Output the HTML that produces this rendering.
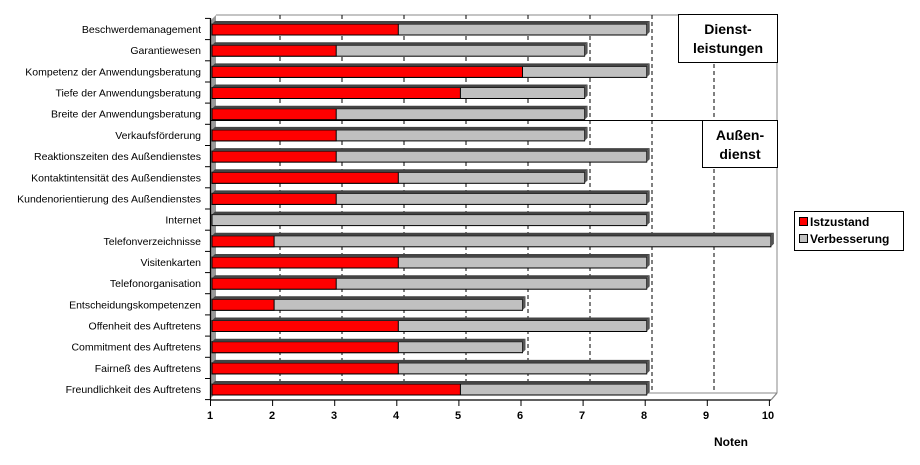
<!DOCTYPE html>
<html><head><meta charset="utf-8"><style>
body{margin:0;background:#fff;width:920px;height:465px;overflow:hidden}
svg{display:block;font-family:"Liberation Sans",Arial,sans-serif}
.l{font-size:10.5px;text-anchor:end}
.t{font-size:11px;font-weight:bold;text-anchor:middle}
</style></head><body>
<svg width="920" height="465" viewBox="0 0 920 465">
<!-- back wall -->
<polygon points="210,21 216,15 777,15 777,393 771,399 210,399" fill="#fff"/>
<line x1="216" y1="15" x2="777" y2="15" stroke="#888"/>
<line x1="777" y1="15" x2="777" y2="393" stroke="#888"/>
<line x1="216" y1="393" x2="777" y2="393" stroke="#888"/>
<!-- left wall -->
<polygon points="210,21 216,15 216,393 210,399" fill="#999"/>
<!-- gridlines -->
<g stroke="#000" stroke-dasharray="4,3" stroke-width="1">
<line x1="280" y1="15" x2="280" y2="393"/>
<line x1="342" y1="15" x2="342" y2="393"/>
<line x1="404" y1="15" x2="404" y2="393"/>
<line x1="466" y1="15" x2="466" y2="393"/>
<line x1="528" y1="15" x2="528" y2="393"/>
<line x1="590" y1="15" x2="590" y2="393"/>
<line x1="652" y1="15" x2="652" y2="393"/>
<line x1="714" y1="15" x2="714" y2="393"/>
</g>
<!-- separator -->
<line x1="210" y1="120.5" x2="777" y2="120.5" stroke="#000"/>
<!-- boxes -->
<rect x="678.5" y="14.5" width="99" height="48" fill="#fff" stroke="#000"/>
<text x="728" y="34" class="t" font-size="14" style="font-size:14px">Dienst-</text>
<text x="728" y="53" class="t" style="font-size:14px">leistungen</text>
<rect x="702.5" y="120.5" width="75" height="47" fill="#fff" stroke="#000"/>
<text x="740" y="140" class="t" style="font-size:14px">Außen-</text>
<text x="740" y="159" class="t" style="font-size:14px">dienst</text>

<!-- bars -->
<g stroke="#000" stroke-width="1">
<!-- row template: gray total, red ist -->
<g transform="translate(0,29)"><rect x="212" y="-5" width="434.7" height="11" fill="#c0c0c0"/><rect x="212" y="-5" width="186.3" height="11" fill="#f00"/><polygon points="646.7,-5 649.7,-8 649.7,3 646.7,6" fill="#555" stroke="none"/><polygon points="212,-5 215,-8 649.7,-8 646.7,-5" fill="#444" stroke="none"/></g>
<g transform="translate(0,50.2)"><rect x="212" y="-5" width="372.6" height="11" fill="#c0c0c0"/><rect x="212" y="-5" width="124.2" height="11" fill="#f00"/><polygon points="584.6,-5 587.6,-8 587.6,3 584.6,6" fill="#555" stroke="none"/><polygon points="212,-5 215,-8 587.6,-8 584.6,-5" fill="#444" stroke="none"/></g>
<g transform="translate(0,71.4)"><rect x="212" y="-5" width="434.7" height="11" fill="#c0c0c0"/><rect x="212" y="-5" width="310.5" height="11" fill="#f00"/><polygon points="646.7,-5 649.7,-8 649.7,3 646.7,6" fill="#555" stroke="none"/><polygon points="212,-5 215,-8 649.7,-8 646.7,-5" fill="#444" stroke="none"/></g>
<g transform="translate(0,92.5)"><rect x="212" y="-5" width="372.6" height="11" fill="#c0c0c0"/><rect x="212" y="-5" width="248.4" height="11" fill="#f00"/><polygon points="584.6,-5 587.6,-8 587.6,3 584.6,6" fill="#555" stroke="none"/><polygon points="212,-5 215,-8 587.6,-8 584.6,-5" fill="#444" stroke="none"/></g>
<g transform="translate(0,113.7)"><rect x="212" y="-5" width="372.6" height="11" fill="#c0c0c0"/><rect x="212" y="-5" width="124.2" height="11" fill="#f00"/><polygon points="584.6,-5 587.6,-8 587.6,3 584.6,6" fill="#555" stroke="none"/><polygon points="212,-5 215,-8 587.6,-8 584.6,-5" fill="#444" stroke="none"/></g>
<g transform="translate(0,134.9)"><rect x="212" y="-5" width="372.6" height="11" fill="#c0c0c0"/><rect x="212" y="-5" width="124.2" height="11" fill="#f00"/><polygon points="584.6,-5 587.6,-8 587.6,3 584.6,6" fill="#555" stroke="none"/><polygon points="212,-5 215,-8 587.6,-8 584.6,-5" fill="#444" stroke="none"/></g>
<g transform="translate(0,156.1)"><rect x="212" y="-5" width="434.7" height="11" fill="#c0c0c0"/><rect x="212" y="-5" width="124.2" height="11" fill="#f00"/><polygon points="646.7,-5 649.7,-8 649.7,3 646.7,6" fill="#555" stroke="none"/><polygon points="212,-5 215,-8 649.7,-8 646.7,-5" fill="#444" stroke="none"/></g>
<g transform="translate(0,177.3)"><rect x="212" y="-5" width="372.6" height="11" fill="#c0c0c0"/><rect x="212" y="-5" width="186.3" height="11" fill="#f00"/><polygon points="584.6,-5 587.6,-8 587.6,3 584.6,6" fill="#555" stroke="none"/><polygon points="212,-5 215,-8 587.6,-8 584.6,-5" fill="#444" stroke="none"/></g>
<g transform="translate(0,198.4)"><rect x="212" y="-5" width="434.7" height="11" fill="#c0c0c0"/><rect x="212" y="-5" width="124.2" height="11" fill="#f00"/><polygon points="646.7,-5 649.7,-8 649.7,3 646.7,6" fill="#555" stroke="none"/><polygon points="212,-5 215,-8 649.7,-8 646.7,-5" fill="#444" stroke="none"/></g>
<g transform="translate(0,219.6)"><rect x="212" y="-5" width="434.7" height="11" fill="#c0c0c0"/><polygon points="646.7,-5 649.7,-8 649.7,3 646.7,6" fill="#555" stroke="none"/><polygon points="212,-5 215,-8 649.7,-8 646.7,-5" fill="#444" stroke="none"/></g>
<g transform="translate(0,240.8)"><rect x="212" y="-5" width="558.9" height="11" fill="#c0c0c0"/><rect x="212" y="-5" width="62.1" height="11" fill="#f00"/><polygon points="770.9,-5 773.9,-8 773.9,3 770.9,6" fill="#555" stroke="none"/><polygon points="212,-5 215,-8 773.9,-8 770.9,-5" fill="#444" stroke="none"/></g>
<g transform="translate(0,262)"><rect x="212" y="-5" width="434.7" height="11" fill="#c0c0c0"/><rect x="212" y="-5" width="186.3" height="11" fill="#f00"/><polygon points="646.7,-5 649.7,-8 649.7,3 646.7,6" fill="#555" stroke="none"/><polygon points="212,-5 215,-8 649.7,-8 646.7,-5" fill="#444" stroke="none"/></g>
<g transform="translate(0,283.2)"><rect x="212" y="-5" width="434.7" height="11" fill="#c0c0c0"/><rect x="212" y="-5" width="124.2" height="11" fill="#f00"/><polygon points="646.7,-5 649.7,-8 649.7,3 646.7,6" fill="#555" stroke="none"/><polygon points="212,-5 215,-8 649.7,-8 646.7,-5" fill="#444" stroke="none"/></g>
<g transform="translate(0,304.3)"><rect x="212" y="-5" width="310.5" height="11" fill="#c0c0c0"/><rect x="212" y="-5" width="62.1" height="11" fill="#f00"/><polygon points="522.5,-5 525.5,-8 525.5,3 522.5,6" fill="#555" stroke="none"/><polygon points="212,-5 215,-8 525.5,-8 522.5,-5" fill="#444" stroke="none"/></g>
<g transform="translate(0,325.5)"><rect x="212" y="-5" width="434.7" height="11" fill="#c0c0c0"/><rect x="212" y="-5" width="186.3" height="11" fill="#f00"/><polygon points="646.7,-5 649.7,-8 649.7,3 646.7,6" fill="#555" stroke="none"/><polygon points="212,-5 215,-8 649.7,-8 646.7,-5" fill="#444" stroke="none"/></g>
<g transform="translate(0,346.7)"><rect x="212" y="-5" width="310.5" height="11" fill="#c0c0c0"/><rect x="212" y="-5" width="186.3" height="11" fill="#f00"/><polygon points="522.5,-5 525.5,-8 525.5,3 522.5,6" fill="#555" stroke="none"/><polygon points="212,-5 215,-8 525.5,-8 522.5,-5" fill="#444" stroke="none"/></g>
<g transform="translate(0,367.9)"><rect x="212" y="-5" width="434.7" height="11" fill="#c0c0c0"/><rect x="212" y="-5" width="186.3" height="11" fill="#f00"/><polygon points="646.7,-5 649.7,-8 649.7,3 646.7,6" fill="#555" stroke="none"/><polygon points="212,-5 215,-8 649.7,-8 646.7,-5" fill="#444" stroke="none"/></g>
<g transform="translate(0,389)"><rect x="212" y="-5" width="434.7" height="11" fill="#c0c0c0"/><rect x="212" y="-5" width="248.4" height="11" fill="#f00"/><polygon points="646.7,-5 649.7,-8 649.7,3 646.7,6" fill="#555" stroke="none"/><polygon points="212,-5 215,-8 649.7,-8 646.7,-5" fill="#444" stroke="none"/></g>
</g>

<!-- axes -->
<g stroke="#000" stroke-width="1.3">
<line x1="210.5" y1="18" x2="210.5" y2="400"/>
<line x1="210" y1="400" x2="771" y2="400"/>
<line x1="771" y1="400" x2="777" y2="393" stroke="#888"/>
</g>
<g stroke="#000">
<line x1="205" y1="18.4" x2="210" y2="18.4"/><line x1="205" y1="39.6" x2="210" y2="39.6"/><line x1="205" y1="60.8" x2="210" y2="60.8"/><line x1="205" y1="82" x2="210" y2="82"/><line x1="205" y1="103.1" x2="210" y2="103.1"/><line x1="205" y1="124.3" x2="210" y2="124.3"/><line x1="205" y1="145.5" x2="210" y2="145.5"/><line x1="205" y1="166.7" x2="210" y2="166.7"/><line x1="205" y1="187.8" x2="210" y2="187.8"/><line x1="205" y1="209" x2="210" y2="209"/><line x1="205" y1="230.2" x2="210" y2="230.2"/><line x1="205" y1="251.4" x2="210" y2="251.4"/><line x1="205" y1="272.6" x2="210" y2="272.6"/><line x1="205" y1="293.7" x2="210" y2="293.7"/><line x1="205" y1="314.9" x2="210" y2="314.9"/><line x1="205" y1="336.1" x2="210" y2="336.1"/><line x1="205" y1="357.3" x2="210" y2="357.3"/><line x1="205" y1="378.5" x2="210" y2="378.5"/><line x1="205" y1="399.6" x2="210" y2="399.6"/>
<line x1="210.5" y1="400" x2="210.5" y2="406"/><line x1="272.6" y1="400" x2="272.6" y2="406"/><line x1="334.7" y1="400" x2="334.7" y2="406"/><line x1="396.8" y1="400" x2="396.8" y2="406"/><line x1="458.9" y1="400" x2="458.9" y2="406"/><line x1="521" y1="400" x2="521" y2="406"/><line x1="583.1" y1="400" x2="583.1" y2="406"/><line x1="645.2" y1="400" x2="645.2" y2="406"/><line x1="707.3" y1="400" x2="707.3" y2="406"/><line x1="769.4" y1="400" x2="769.4" y2="406"/>
</g>
<g class="t" style="font-size:12px">
<text x="210" y="419" class="t">1</text><text x="272" y="419" class="t">2</text><text x="334" y="419" class="t">3</text><text x="396" y="419" class="t">4</text><text x="458" y="419" class="t">5</text><text x="520" y="419" class="t">6</text><text x="582" y="419" class="t">7</text><text x="644" y="419" class="t">8</text><text x="706" y="419" class="t">9</text><text x="768" y="419" class="t">10</text>
</g>
<text x="731" y="446" class="t" style="font-size:12px">Noten</text>

<!-- category labels -->
<g class="l">
<text x="201" y="33">Beschwerdemanagement</text>
<text x="201" y="54">Garantiewesen</text>
<text x="201" y="75.5">Kompetenz der Anwendungsberatung</text>
<text x="201" y="96.5">Tiefe der Anwendungsberatung</text>
<text x="201" y="117.7">Breite der Anwendungsberatung</text>
<text x="201" y="139">Verkaufsförderung</text>
<text x="201" y="160">Reaktionszeiten des Außendienstes</text>
<text x="201" y="181.3">Kontaktintensität des Außendienstes</text>
<text x="201" y="202.4">Kundenorientierung des Außendienstes</text>
<text x="201" y="223.6">Internet</text>
<text x="201" y="244.8">Telefonverzeichnisse</text>
<text x="201" y="266">Visitenkarten</text>
<text x="201" y="287.2">Telefonorganisation</text>
<text x="201" y="308.3">Entscheidungskompetenzen</text>
<text x="201" y="329.5">Offenheit des Auftretens</text>
<text x="201" y="350.7">Commitment des Auftretens</text>
<text x="201" y="371.9">Fairneß des Auftretens</text>
<text x="201" y="393">Freundlichkeit des Auftretens</text>
</g>

<!-- legend -->
<rect x="794.5" y="211.5" width="109" height="39" fill="#fff" stroke="#000"/>
<rect x="799.5" y="217.5" width="8" height="8" fill="#f00" stroke="#000"/>
<rect x="799.5" y="234.5" width="8" height="8" fill="#c0c0c0" stroke="#000"/>
<text x="810" y="226" style="font-size:12px;font-weight:bold">Istzustand</text>
<text x="810" y="243" style="font-size:12px;font-weight:bold">Verbesserung</text>
</svg>
</body></html>
